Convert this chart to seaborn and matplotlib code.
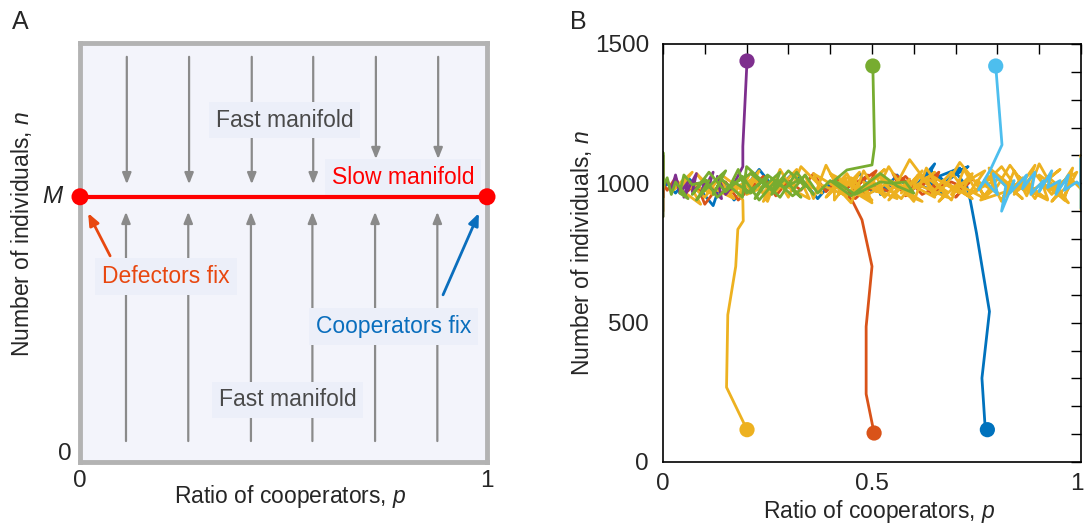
import matplotlib
matplotlib.use("Agg")
import matplotlib.pyplot as plt
import matplotlib.transforms as mtrans
import seaborn as sns
import pandas as pd

# ---------------- data ----------------
# Panel A: positions of flow arrows (ratio p) and manifold level
arrow_p = [0.115, 0.268, 0.422, 0.573, 0.727, 0.880]
slow_manifold_p = [0.0, 1.0]
slow_manifold_level = 0.633

# Panel B: hand-read trajectories (p, n)
traj_names = ["blue", "red", "yellow", "purple", "green", "lightblue"]
traj_colors = ["#0072BD", "#D95319", "#EDB120", "#7E2F8E", "#77AC30", "#4DBEEE"]

blue_path = [(0.776, 116), (0.770, 140), (0.763, 301), (0.781, 540), (0.750, 821), (0.735, 940), (0.727, 988),
             (0.70, 1040), (0.73, 1060), (0.68, 1010), (0.71, 1055), (0.66, 1025), (0.69, 985), (0.64, 1045),
             (0.62, 990), (0.67, 960), (0.63, 1015), (0.65, 1070), (0.61, 1000), (0.59, 975), (0.56, 1030),
             (0.52, 960), (0.55, 1000), (0.50, 970), (0.47, 1035), (0.44, 980), (0.41, 1015), (0.37, 945),
             (0.34, 1000), (0.31, 1035), (0.27, 975), (0.23, 1050), (0.20, 990), (0.17, 940), (0.14, 1010),
             (0.12, 920), (0.09, 975), (0.06, 1020), (0.03, 965), (0.01, 1000), (0.0, 980)]

red_path = [(0.505, 104), (0.486, 244), (0.486, 486), (0.500, 702), (0.476, 869), (0.452, 940),
            (0.43, 975), (0.47, 1010), (0.44, 950), (0.49, 1030), (0.46, 990), (0.51, 1045), (0.48, 965),
            (0.53, 1010), (0.57, 975), (0.55, 1035), (0.60, 990), (0.58, 955), (0.63, 1020), (0.61, 980),
            (0.66, 1040), (0.64, 965), (0.69, 1005), (0.72, 985), (0.70, 950), (0.74, 1015), (0.71, 975),
            (0.67, 1000), (0.62, 960), (0.58, 1025), (0.54, 970), (0.50, 1000), (0.46, 945), (0.42, 1015),
            (0.39, 970), (0.36, 1035), (0.33, 975), (0.30, 1010), (0.27, 955), (0.24, 1025), (0.21, 985),
            (0.18, 940), (0.15, 1005), (0.12, 965), (0.10, 925), (0.08, 1000), (0.05, 960), (0.03, 1020),
            (0.01, 975), (0.0, 1000), (0.0, 950), (0.0, 1080), (0.0, 900)]

yellow_path = [(0.201, 116), (0.152, 268), (0.155, 528), (0.174, 702), (0.179, 835), (0.192, 865), (0.191, 940),
               (0.17, 985), (0.21, 1010), (0.16, 965), (0.13, 1020), (0.17, 945), (0.11, 990), (0.08, 1035),
               (0.12, 960), (0.06, 1005), (0.09, 925), (0.04, 980), (0.07, 1040), (0.02, 970), (0.05, 1015),
               (0.10, 950), (0.14, 1030), (0.19, 975), (0.23, 1045), (0.20, 960), (0.26, 1000), (0.24, 935),
               (0.29, 1025), (0.27, 970), (0.32, 1050), (0.30, 985), (0.35, 945), (0.33, 1010), (0.38, 965),
               (0.36, 1035), (0.41, 990), (0.39, 950), (0.44, 1020), (0.42, 960), (0.47, 1040), (0.45, 975),
               (0.50, 930), (0.48, 1005), (0.53, 955), (0.51, 1030), (0.56, 980), (0.54, 940), (0.59, 1015),
               (0.57, 965), (0.62, 1045), (0.60, 990), (0.65, 950), (0.63, 1020), (0.68, 970), (0.66, 935),
               (0.71, 1005), (0.69, 960), (0.74, 1035), (0.72, 985), (0.77, 945), (0.75, 1010), (0.80, 965),
               (0.78, 1055), (0.83, 995), (0.81, 940), (0.86, 1020), (0.84, 960), (0.89, 1065), (0.87, 985),
               (0.92, 945), (0.90, 1030), (0.95, 975), (0.93, 935), (0.98, 1010), (0.96, 955), (0.99, 1040),
               (0.94, 990), (0.97, 930), (0.91, 1000), (0.95, 1050), (0.88, 970), (0.92, 940), (0.85, 1025),
               (0.89, 965), (0.82, 1000), (0.86, 945), (0.79, 1035), (0.83, 975), (0.76, 940), (0.80, 1015),
               (0.73, 960), (0.77, 1045), (0.70, 985), (0.74, 945), (0.67, 1010), (0.71, 965), (0.64, 1030),
               (0.68, 950), (0.61, 995), (0.65, 1040), (0.58, 960), (0.62, 935), (0.55, 1005), (0.59, 975),
               (0.52, 1025), (0.56, 945), (0.49, 990), (0.53, 1050), (0.46, 965), (0.50, 940), (0.43, 1010),
               (0.47, 980), (0.40, 1035), (0.44, 955), (0.37, 1000),
               (0.33, 1060), (0.30, 950), (0.27, 1025), (0.24, 965), (0.21, 1040), (0.18, 955), (0.22, 1015),
               (0.25, 935), (0.28, 1050), (0.31, 975), (0.34, 1030), (0.36, 945), (0.39, 1065), (0.42, 980),
               (0.45, 930), (0.48, 1045), (0.51, 970), (0.54, 1060), (0.57, 990), (0.60, 935), (0.63, 1055),
               (0.66, 985), (0.69, 940), (0.72, 1050), (0.75, 970), (0.78, 1025), (0.81, 935), (0.84, 1045),
               (0.87, 955), (0.90, 1070), (0.93, 990), (0.96, 940), (0.98, 1055), (0.95, 985), (0.92, 1025),
               (0.89, 945), (0.86, 1005), (0.83, 1065), (0.80, 990), (0.77, 950), (0.74, 1020), (0.71, 1075),
               (0.68, 1000), (0.65, 955), (0.62, 1025), (0.59, 1085), (0.56, 1000), (0.53, 950), (0.50, 1015),
               (0.47, 960), (0.44, 1035), (0.41, 985),
               (0.41, 940), (0.45, 1020), (0.49, 960),
               (0.53, 995), (0.57, 945), (0.61, 1030), (0.65, 975), (0.69, 1040), (0.73, 955), (0.77, 1000),
               (0.81, 1060), (0.85, 975), (0.89, 1035), (0.93, 960), (0.97, 1025), (1.0, 980), (1.0, 1100),
               (1.0, 930), (1.0, 1060), (1.0, 905)]

purple_path = [(0.201, 1439), (0.191, 1132), (0.191, 1060),
               (0.17, 1000), (0.15, 960), (0.13, 1025), (0.14, 945), (0.11, 990), (0.12, 1040), (0.09, 955),
               (0.10, 1010), (0.07, 970), (0.08, 1035), (0.05, 950), (0.06, 1005), (0.04, 965), (0.03, 1030),
               (0.02, 975), (0.01, 1010), (0.0, 990), (0.0, 1100), (0.0, 880)]

green_path = [(0.502, 1421), (0.506, 1132), (0.500, 1066), (0.44, 1048), (0.41, 1010),
              (0.46, 960), (0.52, 1005), (0.55, 1000), (0.58, 1005), (0.60, 965), (0.56, 990), (0.52, 1035),
              (0.48, 990), (0.45, 955), (0.40, 1010), (0.37, 965), (0.34, 1030), (0.31, 975), (0.33, 950),
              (0.29, 1015), (0.26, 960), (0.28, 1040), (0.24, 985), (0.22, 945), (0.25, 1020), (0.20, 965),
              (0.18, 1050), (0.16, 990),
              (0.21, 1035), (0.26, 975), (0.30, 1045), (0.34, 990), (0.31, 955), (0.27, 1010), (0.23, 940),
              (0.19, 1025), (0.15, 970), (0.11, 1040), (0.07, 960), (0.10, 1015), (0.13, 950), (0.17, 1005),
              (0.21, 965), (0.25, 1030), (0.29, 985), (0.33, 1015), (0.36, 960), (0.32, 1040), (0.28, 950),
              (0.24, 1005), (0.20, 1060), (0.19, 950), (0.14, 1015), (0.12, 960), (0.15, 1045), (0.10, 975),
              (0.08, 940), (0.11, 1010), (0.07, 995), (0.05, 1030), (0.04, 965), (0.06, 945), (0.03, 1005),
              (0.02, 960), (0.01, 1020), (0.0, 985), (0.0, 1110), (0.0, 880)]

lightblue_path = [(0.796, 1421), (0.811, 1138), (0.783, 1048), (0.755, 977),
                  (0.77, 1010), (0.80, 960), (0.79, 1035), (0.82, 990), (0.81, 900), (0.84, 1010), (0.83, 965),
                  (0.87, 1030), (0.86, 980), (0.89, 1040), (0.88, 960), (0.91, 1010), (0.90, 970), (0.93, 1045),
                  (0.92, 985), (0.95, 1010), (0.94, 960), (0.97, 1030), (0.96, 975), (0.99, 1005), (1.0, 990),
                  (1.0, 1090), (1.0, 910)]

paths = [blue_path, red_path, yellow_path, purple_path, green_path, lightblue_path]

# ---------------- style ----------------
sns.set_theme(style="white")
plt.rcParams["font.family"] = ["Liberation Sans", "DejaVu Sans"]
plt.rcParams["mathtext.fontset"] = "custom"
plt.rcParams["mathtext.rm"] = "Liberation Sans"
plt.rcParams["mathtext.it"] = "Liberation Sans:italic"

fig = plt.figure(figsize=(10.85, 5.25), dpi=100)
W, H = 1085, 525
axA = fig.add_axes([80 / W, (H - 462) / H, 407 / W, 419 / H])
axB = fig.add_axes([663 / W, (H - 462) / H, 418 / W, 418 / H])

# ---------------- Panel A ----------------
bg = "#f3f4fb"
boxc = "#eceff9"
axA.set_facecolor(bg)
axA.set_xlim(0, 1)
axA.set_ylim(0, 1)
for s in axA.spines.values():
    s.set_color("#b3b3b3")
    s.set_linewidth(3.5)
axA.set_xticks([])
axA.set_yticks([])

gray = "#8a8a8a"
arrow_kw = dict(arrowstyle="-|>,head_length=0.55,head_width=0.22", color=gray, lw=1.6,
                shrinkA=0, shrinkB=0)
for i, p in enumerate(arrow_p):
    top_end = 0.663 if i < 4 else 0.723
    axA.annotate("", xy=(p, top_end), xytext=(p, 0.967), arrowprops=arrow_kw, zorder=2)
    axA.annotate("", xy=(p - 0.002, 0.597), xytext=(p - 0.002, 0.05), arrowprops=arrow_kw, zorder=2)

line_df = pd.DataFrame({"p": slow_manifold_p, "n": [slow_manifold_level] * 2})
sns.lineplot(data=line_df, x="p", y="n", ax=axA, color="#ff0000", lw=3, zorder=4)
sns.scatterplot(data=line_df, x="p", y="n", ax=axA, color="#ff0000", s=150, edgecolor="none",
                zorder=5, clip_on=False)
axA.set_xlabel("")
axA.set_ylabel("")

fs_in = 16.5
box = dict(boxstyle="square,pad=0.3", fc=boxc, ec="none")
axA.text(0.503, 0.816, "Fast manifold", color="#4a4a4a", fontsize=fs_in, ha="center", va="center",
         bbox=box, zorder=3)
axA.text(0.51, 0.148, "Fast manifold", color="#4a4a4a", fontsize=fs_in, ha="center", va="center",
         bbox=box, zorder=3)
axA.text(0.794, 0.68, "Slow manifold", color="#ff0000", fontsize=fs_in, ha="center", va="center",
         bbox=box, zorder=3)
axA.text(0.211, 0.442, "Defectors fix", color="#e8470f", fontsize=fs_in, ha="center", va="center",
         bbox=box, zorder=3)
axA.text(0.77, 0.323, "Cooperators fix", color="#0a6ebd", fontsize=fs_in, ha="center", va="center",
         bbox=box, zorder=3)
axA.annotate("", xy=(0.02, 0.594), xytext=(0.074, 0.492),
             arrowprops=dict(arrowstyle="-|>,head_length=0.6,head_width=0.25", color="#e8470f", lw=2,
                             shrinkA=0, shrinkB=0), zorder=3)
axA.annotate("", xy=(0.98, 0.594), xytext=(0.892, 0.399),
             arrowprops=dict(arrowstyle="-|>,head_length=0.6,head_width=0.25", color="#0a6ebd", lw=2,
                             shrinkA=0, shrinkB=0), zorder=3)

tick_fs = 17.5
lab_fs = 16.5
axA.text(-0.065, slow_manifold_level, "$M$", fontsize=tick_fs, ha="center", va="center",
         transform=axA.transAxes)
axA.text(-0.037, 0.02, "0", fontsize=tick_fs, ha="center", va="center", transform=axA.transAxes)
axA.text(0.0, -0.045, "0", fontsize=tick_fs, ha="center", va="center", transform=axA.transAxes)
axA.text(1.0, -0.045, "1", fontsize=tick_fs, ha="center", va="center", transform=axA.transAxes)
axA.text(0.516, -0.083, "Ratio of cooperators, $p$", fontsize=lab_fs, ha="center", va="center",
         transform=axA.transAxes)
axA.text(-0.143, 0.545, "Number of individuals, $n$", fontsize=lab_fs, ha="center", va="center",
         rotation=90, transform=axA.transAxes)

# ---------------- Panel B ----------------
rows = []
for name, path in zip(traj_names, paths):
    for k, (p, n) in enumerate(path):
        rows.append({"traj": name, "step": k, "p": p, "n": n})
df = pd.DataFrame(rows)
starts = df[df["step"] == 0]
pal = dict(zip(traj_names, traj_colors))

sns.lineplot(data=df, x="p", y="n", hue="traj", hue_order=traj_names, palette=pal,
             sort=False, estimator=None, lw=2.0, legend=False, ax=axB)
sns.scatterplot(data=starts, x="p", y="n", hue="traj", hue_order=traj_names, palette=pal,
                s=120, edgecolor="none", legend=False, ax=axB, zorder=5)

axB.set_facecolor("white")
axB.set_xlim(0, 1)
axB.set_ylim(0, 1500)
axB.set_xticks([0, 0.5, 1])
axB.set_xticklabels(["0", "0.5", "1"])
axB.set_xticks([i / 10 for i in range(11)], minor=True)
axB.set_yticks([0, 500, 1000, 1500])
axB.set_yticks(list(range(0, 1501, 100)), minor=True)
axB.tick_params(axis="both", which="both", direction="in", top=True, right=True,
                labelsize=tick_fs, color="black", width=1)
axB.tick_params(which="major", length=7)
axB.tick_params(which="minor", length=7)
axB.tick_params(axis="x", pad=8)
axB.tick_params(axis="y", pad=10)
for s in axB.spines.values():
    s.set_color("black")
    s.set_linewidth(1.2)
axB.set_xlabel("Ratio of cooperators, $p$", fontsize=lab_fs)
axB.set_ylabel("Number of individuals, $n$", fontsize=lab_fs)
axB.xaxis.set_label_coords(0.517, -0.086)
axB.yaxis.set_label_coords(-0.165, 0.5)
last = axB.get_xticklabels()[-1]
last.set_transform(last.get_transform() + mtrans.ScaledTranslation(-4 / 100, 0, fig.dpi_scale_trans))

fig.text(20 / W, 1 - 22 / H, "A", fontsize=18, ha="center", va="center")
fig.text(578 / W, 1 - 22 / H, "B", fontsize=18, ha="center", va="center")

fig.savefig("out.png", dpi=100)
